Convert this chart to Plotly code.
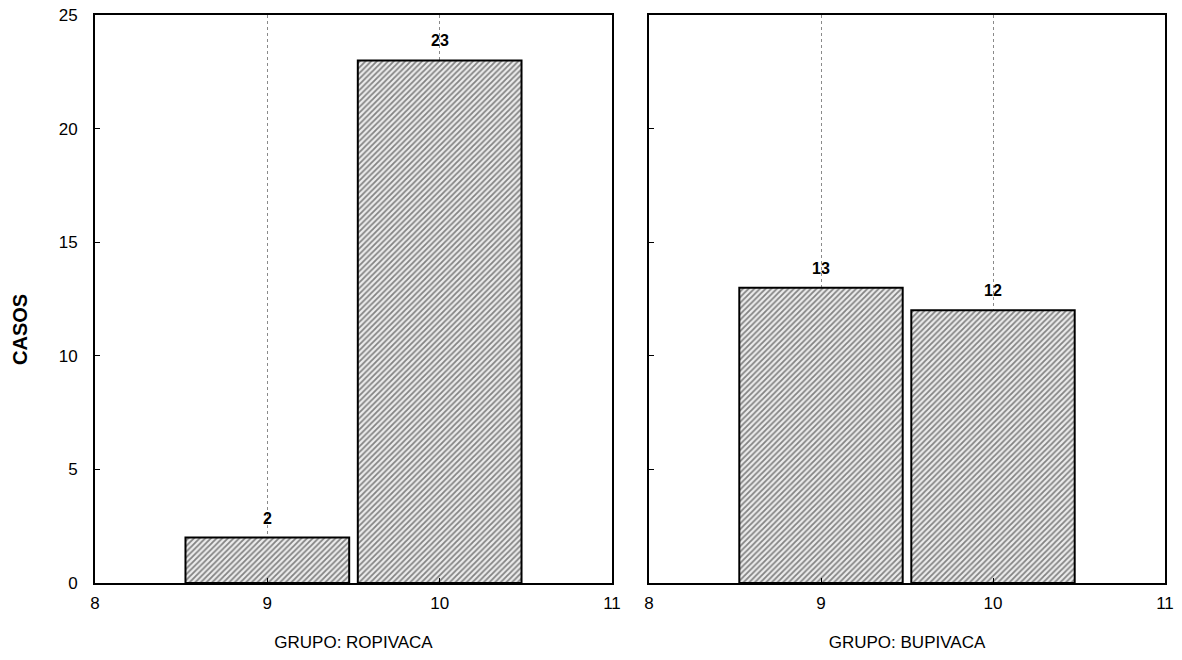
import plotly.graph_objects as go
from plotly.subplots import make_subplots

categories = [9, 10]
ropivaca = [2, 23]
bupivaca = [13, 12]
x_ticks = [8, 9, 10, 11]
y_ticks = [0, 5, 10, 15, 20, 25]

W, H = 1182, 660
FONT = "Liberation Sans, Arial"
fig = make_subplots(rows=1, cols=2, horizontal_spacing=0.03)

bar_style = dict(
    width=0.95,
    marker=dict(
        color="#d0d0d0",
        line=dict(color="black", width=2),
        pattern=dict(shape="/", fgcolor="#1a1a1a", bgcolor="#ececec", size=4, solidity=0.45),
    ),
    showlegend=False,
)

fig.add_trace(go.Bar(x=categories, y=ropivaca, **bar_style), row=1, col=1)
fig.add_trace(go.Bar(x=categories, y=bupivaca, **bar_style), row=1, col=2)

for xref, yref, vals in [("x", "y", ropivaca), ("x2", "y2", bupivaca)]:
    for c, v in zip(categories, vals):
        fig.add_annotation(
            x=c, y=v, xref=xref, yref=yref, text=f"<b>{v}</b>", showarrow=False,
            yanchor="bottom", yshift=9,
            font=dict(size=16, color="black", family=FONT),
        )

axis_common = dict(
    showline=True, linecolor="black", linewidth=2, mirror=True,
    ticks="inside", ticklen=5, tickcolor="black", tickwidth=1,
    tickfont=dict(size=17, color="black", family=FONT),
    zeroline=False, automargin=False, ticklabeloverflow="allow",
)

fig.update_xaxes(
    range=[8, 11], tickvals=x_ticks, showgrid=True, gridcolor="#8a8a8a",
    griddash="dot", gridwidth=1, ticklabelstandoff=4, **axis_common
)
fig.update_yaxes(
    range=[0, 25], tickvals=y_ticks, showgrid=False, ticklabelstandoff=12, **axis_common
)
fig.update_yaxes(showticklabels=False, row=1, col=2)

fig.update_xaxes(domain=[95 / W, 612 / W], row=1, col=1)
fig.update_xaxes(domain=[649 / W, 1165 / W], row=1, col=2)

fig.update_xaxes(title=dict(text="GRUPO: ROPIVACA", standoff=24,
                            font=dict(size=17, color="black", family=FONT)), row=1, col=1)
fig.update_xaxes(title=dict(text="GRUPO: BUPIVACA", standoff=24,
                            font=dict(size=17, color="black", family=FONT)), row=1, col=2)

fig.add_annotation(
    text="<b>CASOS</b>", textangle=-90, xref="paper", yref="paper",
    x=20 / W, y=(583 - 330) / (583 - 15), xanchor="center", yanchor="middle",
    showarrow=False, font=dict(size=20, color="black", family=FONT),
)

fig.update_layout(
    width=W, height=H,
    margin=dict(l=0, r=0, t=15, b=H - 583),
    plot_bgcolor="white", paper_bgcolor="white",
    bargap=0.05,
)

fig.write_html("out.html", config={"displayModeBar": False},
               post_script="document.body.style.margin='0px';")
